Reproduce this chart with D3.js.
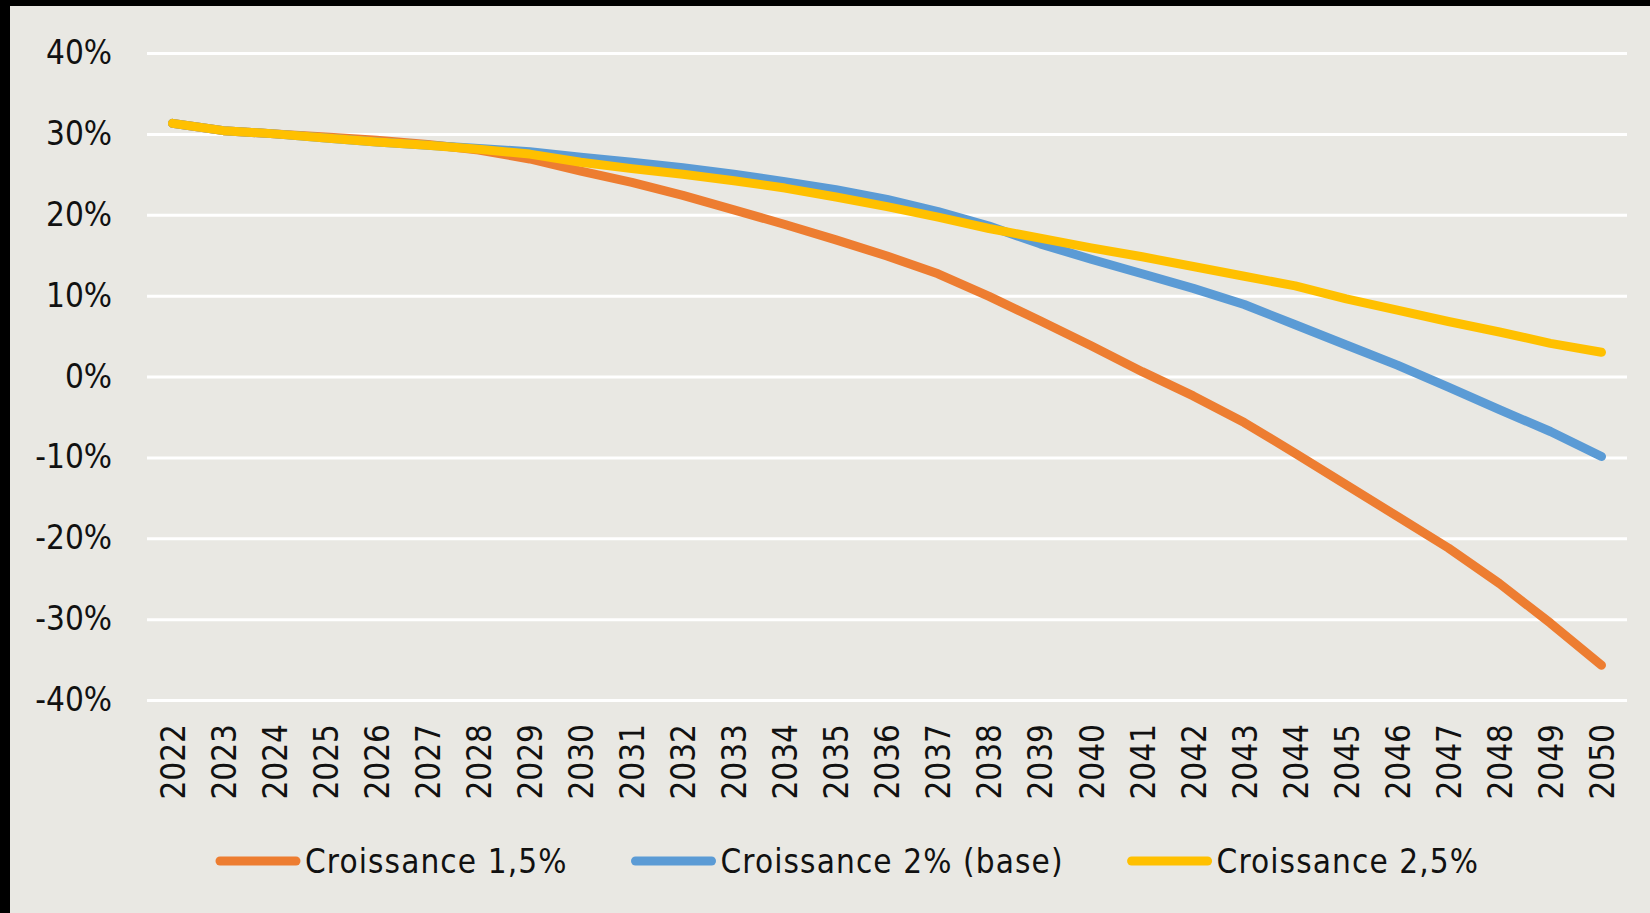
<!DOCTYPE html>
<html>
<head>
<meta charset="utf-8">
<script src="https://cdn.jsdelivr.net/npm/d3@7"></script>
<style>
  html, body { margin: 0; padding: 0; background: #000; }
  svg { display: block; }
  text { font-family: "DejaVu Sans Condensed", "DejaVu Sans", sans-serif; font-stretch: condensed; fill: #111; }
</style>
</head>
<body>
<svg id="chart" width="1650" height="913"></svg>
<script>
// Years on the horizontal axis
const years = d3.range(2022, 2051).map(String);

// Scenario series (% values)
const croissance15 = [31.3, 30.4, 30.0, 29.6, 29.2, 28.7, 28.0, 26.9, 25.4, 24.0, 22.4, 20.6, 18.8, 16.9, 14.9,
  12.7, 9.9, 6.9, 3.8, 0.6, -2.4, -5.7, -9.5, -13.4, -17.3, -21.2, -25.6, -30.5, -35.7];
const croissance20 = [31.3, 30.4, 30.0, 29.5, 29.0, 28.6, 28.2, 27.8, 27.1, 26.5, 25.8, 25.0, 24.1, 23.1, 21.9,
  20.4, 18.6, 16.4, 14.5, 12.7, 10.9, 8.9, 6.4, 3.9, 1.4, -1.3, -4.1, -6.8, -9.9];
const croissance25 = [31.3, 30.4, 30.0, 29.5, 29.0, 28.6, 28.1, 27.5, 26.5, 25.7, 25.0, 24.2, 23.3, 22.2, 21.0,
  19.7, 18.3, 17.1, 15.9, 14.8, 13.6, 12.4, 11.2, 9.6, 8.2, 6.8, 5.5, 4.1, 3.0];

const seriesNames = ["Croissance 1,5%", "Croissance 2% (base)", "Croissance 2,5%"];
const seriesColors = ["#ED7D31", "#5B9BD5", "#FFC000"];
const yTicks = [-40, -30, -20, -10, 0, 10, 20, 30, 40];

const series = [croissance15, croissance20, croissance25].map((values, i) => ({
  name: seriesNames[i], color: seriesColors[i],
  points: values.map((v, j) => ({ year: years[j], value: v }))
}));

const svg = d3.select("#chart");

// Panel background (with the dark frame along the top and left edges)
svg.append("rect").attr("x", 10).attr("y", 6).attr("width", 1640).attr("height", 907).attr("fill", "#E9E8E3");

const plot = { left: 147, right: 1627, top: 53, bottom: 700 };

const x = d3.scalePoint().domain(years).range([plot.left, plot.right]).padding(0.5);
const y = d3.scaleLinear().domain([-40, 40]).range([plot.bottom, plot.top]);

// Y axis with white gridlines
const yAxis = svg.append("g")
  .attr("transform", `translate(${plot.left},0)`)
  .call(d3.axisLeft(y).tickValues(yTicks).tickFormat(d => d + "%")
    .tickSize(-(plot.right - plot.left)).tickPadding(35));
yAxis.select(".domain").remove();
yAxis.selectAll(".tick line").attr("stroke", "#FFFFFF").attr("stroke-width", 3);
yAxis.selectAll(".tick text").attr("font-size", 33).attr("fill", "#111")
  .attr("font-family", null);

// X axis: rotated year labels
const xAxis = svg.append("g")
  .attr("transform", `translate(0,${plot.bottom})`)
  .call(d3.axisBottom(x).tickSize(0).tickPadding(0));
xAxis.select(".domain").remove();
xAxis.selectAll(".tick text")
  .attr("font-size", 33).attr("fill", "#111").attr("font-family", null)
  .attr("text-anchor", "end")
  .attr("transform", "translate(0,24) rotate(-90)")
  .attr("x", 0).attr("y", 0).attr("dy", "0.36em");

// Scenario lines
const line = d3.line().x(d => x(d.year)).y(d => y(d.value));
svg.append("g").selectAll("path").data(series).join("path")
  .attr("d", d => line(d.points))
  .attr("fill", "none")
  .attr("stroke", d => d.color)
  .attr("stroke-width", 9)
  .attr("stroke-linecap", "round")
  .attr("stroke-linejoin", "round");

// Legend
const legendY = 861;
let lx = 216;
const legend = svg.append("g");
series.forEach(s => {
  legend.append("line")
    .attr("x1", lx + 4).attr("x2", lx + 80).attr("y1", legendY).attr("y2", legendY)
    .attr("stroke", s.color).attr("stroke-width", 9).attr("stroke-linecap", "round");
  const t = legend.append("text")
    .attr("x", lx + 89).attr("y", legendY).attr("dy", "0.36em")
    .attr("font-size", 33).attr("letter-spacing", "1.1px").text(s.name);
  lx = lx + 89 + t.node().getComputedTextLength() + 64;
});
</script>
</body>
</html>
